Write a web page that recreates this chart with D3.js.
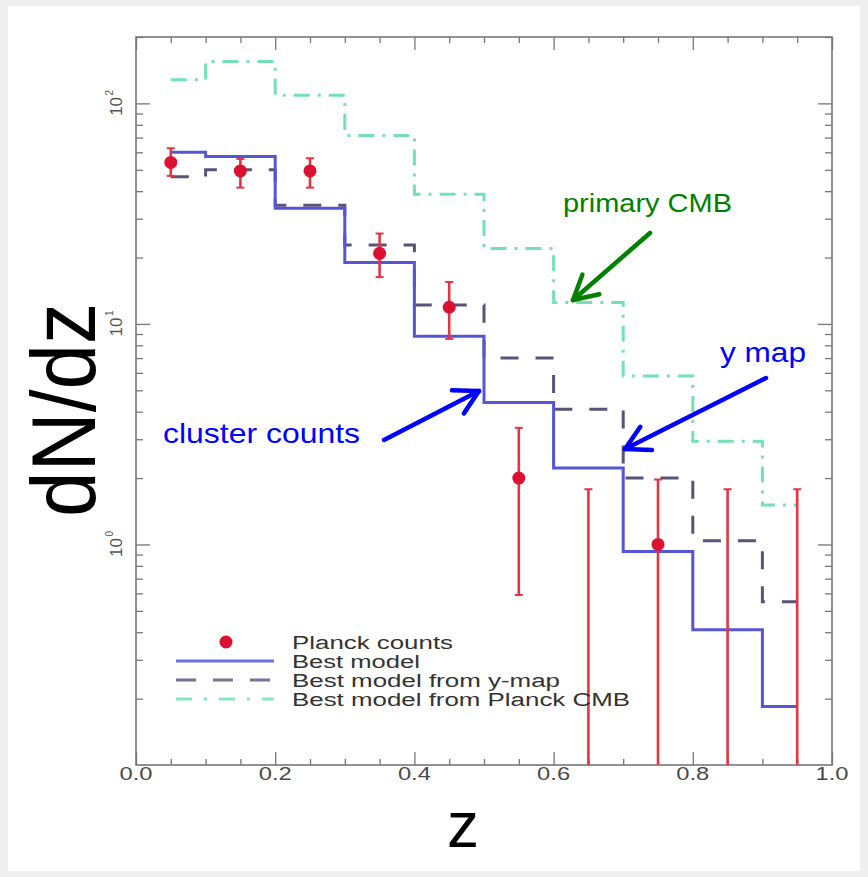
<!DOCTYPE html>
<html><head><meta charset="utf-8">
<script src="https://cdn.jsdelivr.net/npm/d3@7"></script>
<style>html,body{margin:0;padding:0;background:#efefef;}svg{display:block;}</style>
</head><body>
<svg id="chart" width="868" height="877"></svg>
<script>
// ---- data ----
const zCenters   = [0.05, 0.15, 0.25, 0.35, 0.45, 0.55, 0.65, 0.75, 0.85, 0.95];
const bestModel  = [60, 57.5, 33.5, 19.0, 8.8, 4.4, 2.22, 0.93, 0.41, 0.184];
const yMapModel  = [46.5, 50, 34.5, 22.8, 12.2, 7.0, 4.1, 2.0, 1.04, 0.55];
const cmbModel   = [128, 155, 109, 71.5, 38.7, 22, 12.5, 5.8, 2.94, 1.51];
const planckCounts = [54, 49.4, 49.4, 20.9, 11.9, 2.0, 0, 1.0, 0, 0];
const errHigh    = [62.6, 56, 56.4, 25.7, 15.5, 3.38, 1.78, 1.97, 1.78, 1.78];
const errLow     = [46.9, 41.5, 41.5, 16.3, 8.55, 0.59, 0, 0, 0, 0];
const xTickValues = [0, 0.2, 0.4, 0.6, 0.8, 1.0];
const xTickLabels = ["0.0", "0.2", "0.4", "0.6", "0.8", "1.0"];
const yTickValues = [1, 10, 100];
const yTickExponents = ["0", "1", "2"];
const legendLabels = ["Planck counts", "Best model", "Best model from y-map", "Best model from Planck CMB"];

const svg = d3.select("#chart");
svg.append("rect").attr("x", 8).attr("y", 6).attr("width", 852).attr("height", 865).attr("fill", "#fff");

const L = 136, R = 832, T = 37, B = 765;
const x = d3.scaleLinear().domain([0, 1]).range([L, R]);
const y = d3.scaleLog().domain([0.1, 200]).range([B, T]);
const yc = v => v <= 0.1 ? B : y(v);

// ---- axes (ticks inward, mirrored) ----
const axisColor = "#777";
function styleAxis(g) {
  g.select(".domain").remove();
  g.selectAll(".tick line").attr("stroke", axisColor).attr("stroke-width", 1.3);
  g.selectAll(".tick text").remove();
}
const xMinor = d3.range(0, 1.0001, 0.05).map(v => +v.toFixed(2)).filter(v => !xTickValues.includes(v));
const yMinor = [];
[0.1, 1, 10, 100].forEach(d => { for (let k = 2; k <= 9; k++) { const v = d * k; if (v <= 200) yMinor.push(v); } });

svg.append("g").attr("transform", `translate(0,${B})`).call(d3.axisBottom(x).tickValues(xTickValues).tickSize(-13)).call(styleAxis);
svg.append("g").attr("transform", `translate(0,${B})`).call(d3.axisBottom(x).tickValues(xMinor).tickSize(-6)).call(styleAxis);
svg.append("g").attr("transform", `translate(0,${T})`).call(d3.axisTop(x).tickValues(xTickValues).tickSize(-13)).call(styleAxis);
svg.append("g").attr("transform", `translate(0,${T})`).call(d3.axisTop(x).tickValues(xMinor).tickSize(-6)).call(styleAxis);
svg.append("g").attr("transform", `translate(${L},0)`).call(d3.axisLeft(y).tickValues(yTickValues).tickSize(-14)).call(styleAxis);
svg.append("g").attr("transform", `translate(${L},0)`).call(d3.axisLeft(y).tickValues(yMinor).tickSize(-7)).call(styleAxis);
svg.append("g").attr("transform", `translate(${R},0)`).call(d3.axisRight(y).tickValues(yTickValues).tickSize(-14)).call(styleAxis);
svg.append("g").attr("transform", `translate(${R},0)`).call(d3.axisRight(y).tickValues(yMinor).tickSize(-7)).call(styleAxis);

svg.append("rect").attr("x", L).attr("y", T).attr("width", R - L).attr("height", B - T)
  .attr("fill", "none").attr("stroke", axisColor).attr("stroke-width", 1.6);

// x tick labels
svg.append("g").selectAll("text").data(xTickValues).join("text")
  .attr("x", d => x(d)).attr("y", 780).attr("text-anchor", "middle")
  .attr("font-family", "Liberation Sans, Arial, sans-serif").attr("font-size", 19)
  .attr("fill", "#4a4a4a").attr("textLength", 33).attr("lengthAdjust", "spacingAndGlyphs")
  .text((d, i) => xTickLabels[i]);

// y tick labels (rotated 10^n)
const yl = svg.append("g").selectAll("g").data(yTickValues).join("g")
  .attr("transform", d => `translate(122,${y(d)}) rotate(-90)`);
yl.append("text").attr("text-anchor", "middle").attr("x", -3).attr("y", 0)
  .attr("font-family", "Liberation Sans, Arial, sans-serif").attr("font-size", 17).attr("fill", "#555")
  .text("10");
yl.append("text").attr("x", 8).attr("y", -9)
  .attr("font-family", "Liberation Sans, Arial, sans-serif").attr("font-size", 10).attr("fill", "#555")
  .text((d, i) => yTickExponents[i]);

// ---- model step lines ----
const stepLine = vals => d3.line().curve(d3.curveStep).x((d, i) => x(zCenters[i])).y(d => y(d))(vals);
svg.append("path").attr("d", stepLine(cmbModel)).attr("fill", "none")
  .attr("stroke", "#74e0b6").attr("stroke-width", 3).attr("stroke-dasharray", "16,8,3,8");
svg.append("path").attr("d", stepLine(yMapModel)).attr("fill", "none")
  .attr("stroke", "#5a5379").attr("stroke-width", 3).attr("stroke-dasharray", "18,17");
svg.append("path").attr("d", stepLine(bestModel)).attr("fill", "none")
  .attr("stroke", "#5656d4").attr("stroke-width", 3);

// ---- Planck counts with error bars ----
const eb = svg.append("g");
zCenters.forEach((z, i) => {
  const cx = x(z), y1 = yc(errHigh[i]), y0 = yc(errLow[i]);
  eb.append("line").attr("x1", cx).attr("x2", cx).attr("y1", y1).attr("y2", y0)
    .attr("stroke", "#e23545").attr("stroke-width", 2.6);
  eb.append("line").attr("x1", cx - 4).attr("x2", cx + 4).attr("y1", y1).attr("y2", y1)
    .attr("stroke", "#e23545").attr("stroke-width", 2);
  if (errLow[i] > 0.1) eb.append("line").attr("x1", cx - 4).attr("x2", cx + 4).attr("y1", y0).attr("y2", y0)
    .attr("stroke", "#e23545").attr("stroke-width", 2);
  if (planckCounts[i] > 0.1) eb.append("circle").attr("cx", cx).attr("cy", y(planckCounts[i])).attr("r", 6.5).attr("fill", "#dc1030");
});

// ---- legend ----
const lg = svg.append("g");
const legY = [642, 661, 680, 699];
lg.append("circle").attr("cx", 226).attr("cy", legY[0]).attr("r", 6.5).attr("fill", "#dc1030");
lg.append("line").attr("x1", 176).attr("x2", 274).attr("y1", legY[1]).attr("y2", legY[1]).attr("stroke", "#6f6fe2").attr("stroke-width", 3);
lg.append("line").attr("x1", 176).attr("x2", 274).attr("y1", legY[2]).attr("y2", legY[2]).attr("stroke", "#7a6f98").attr("stroke-width", 3).attr("stroke-dasharray", "20,17");
lg.append("line").attr("x1", 176).attr("x2", 274).attr("y1", legY[3]).attr("y2", legY[3]).attr("stroke", "#8ae8c2").attr("stroke-width", 3).attr("stroke-dasharray", "16,12,3,12");
const legW = [161, 128, 268, 338];
lg.selectAll("text").data(legendLabels).join("text")
  .attr("x", 292).attr("y", (d, i) => legY[i] + 6.5)
  .attr("font-family", "Liberation Sans, Arial, sans-serif").attr("font-size", 18).attr("fill", "#333")
  .attr("textLength", (d, i) => legW[i]).attr("lengthAdjust", "spacingAndGlyphs")
  .text(d => d);

// ---- annotations ----
function arrow(x1, y1, x2, y2, color, w) {
  const g = svg.append("g");
  g.append("line").attr("x1", x1).attr("y1", y1).attr("x2", x2).attr("y2", y2)
    .attr("stroke", color).attr("stroke-width", w).attr("stroke-linecap", "round");
  const a = Math.atan2(y1 - y2, x1 - x2), len = 27;
  [-0.5, 0.5].forEach(da => {
    g.append("line").attr("x1", x2).attr("y1", y2)
      .attr("x2", x2 + len * Math.cos(a + da)).attr("y2", y2 + len * Math.sin(a + da))
      .attr("stroke", color).attr("stroke-width", w).attr("stroke-linecap", "round");
  });
}
arrow(650, 233, 573, 300, "#008000", 4.5);
arrow(384, 440, 479, 391, "#0000ff", 4.5);
arrow(766, 378, 625, 449, "#0000ff", 4.5);

function label(t, x0, yb, size, w, color) {
  svg.append("text").attr("x", x0).attr("y", yb).attr("font-family", "Liberation Sans, Arial, sans-serif")
    .attr("font-size", size).attr("fill", color).attr("textLength", w).attr("lengthAdjust", "spacingAndGlyphs").text(t);
}
label("primary CMB", 563, 212, 26, 169, "#008000");
label("cluster counts", 163, 443, 28, 197, "#0000ff");
label("y map", 720, 362, 27, 86, "#0000ff");

// axis titles
svg.append("text").attr("transform", "translate(95,410) scale(1.1,1) rotate(-90)")
  .attr("text-anchor", "middle").attr("font-family", "Liberation Sans, Arial, sans-serif")
  .attr("font-size", 82).attr("fill", "#000").text("dN/dz");
svg.append("text").attr("x", 463).attr("y", 847).attr("text-anchor", "middle")
  .attr("font-family", "Liberation Sans, Arial, sans-serif")
  .attr("font-size", 64).attr("fill", "#000").text("z");
</script>
</body></html>
